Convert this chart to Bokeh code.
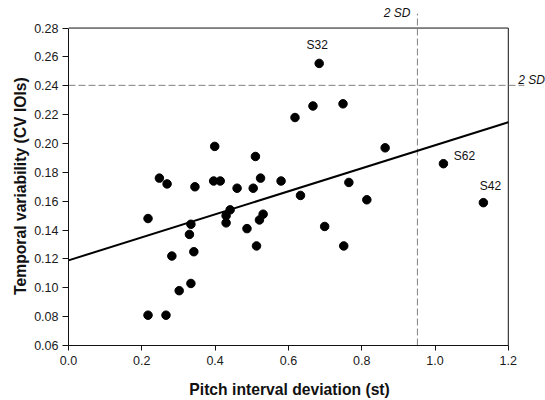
from bokeh.plotting import figure
from bokeh.models import FixedTicker, PrintfTickFormatter, Range1d
from bokeh.core.properties import value
from bokeh.embed import file_html
from bokeh.resources import INLINE

# ---- data ----
pitch_dev = [0.217, 0.217, 0.248, 0.269, 0.266, 0.282, 0.302, 0.330, 0.334, 0.334,
             0.342, 0.345, 0.399, 0.396, 0.414, 0.430, 0.430, 0.441, 0.460, 0.487,
             0.504, 0.510, 0.513, 0.521, 0.524, 0.531, 0.580, 0.618, 0.633, 0.667,
             0.684, 0.699, 0.749, 0.751, 0.765, 0.814, 0.864, 1.023, 1.132]
temporal_cv = [0.148, 0.081, 0.176, 0.172, 0.081, 0.122, 0.098, 0.137, 0.144, 0.103,
               0.125, 0.170, 0.198, 0.174, 0.174, 0.145, 0.150, 0.154, 0.169, 0.141,
               0.169, 0.191, 0.129, 0.147, 0.176, 0.151, 0.174, 0.218, 0.164, 0.226,
               0.2555, 0.1425, 0.2275, 0.129, 0.173, 0.161, 0.197, 0.186, 0.159]

label_names = ["S32", "S62", "S42"]
label_x = [0.684, 1.023, 1.132]
label_y = [0.2555, 0.186, 0.159]

fit_x = [0.0, 1.2]
fit_y = [0.119, 0.2147]

sd_pitch = 0.952     # 2 SD cut-off on x
sd_cv = 0.2403       # 2 SD cut-off on y
sd_text = "2 SD"

x_ticks = [0.0, 0.2, 0.4, 0.6, 0.8, 1.0, 1.2]
y_ticks = [0.06, 0.08, 0.10, 0.12, 0.14, 0.16, 0.18, 0.20, 0.22, 0.24, 0.26, 0.28]

x_title = "Pitch interval deviation (st)"
y_title = "Temporal variability (CV IOIs)"

FONT = "Liberation Sans"
INK = "#111111"
NBSP = "\u00a0"

# The plotting area is a little larger than the axes box so that the
# 2 SD lines and their notes can run past the box as in the original.
p = figure(width=545, height=400, output_backend="svg", toolbar_location=None,
           x_range=Range1d(0, 1.3015), y_range=Range1d(0.06, 0.2991),
           min_border_left=68, min_border_right=0, min_border_top=0,
           min_border_bottom=55,
           # padding keeps the titles centred on the axis rules, not the area
           x_axis_label=x_title + NBSP * 8,
           y_axis_label=y_title + NBSP * 6)
p.outline_line_color = None
p.grid.visible = False

p.xaxis.ticker = FixedTicker(ticks=x_ticks)
p.xaxis.formatter = PrintfTickFormatter(format="%.1f")
p.yaxis.ticker = FixedTicker(ticks=y_ticks)
p.yaxis.formatter = PrintfTickFormatter(format="%.2f")
p.xaxis.bounds = (x_ticks[0], x_ticks[-1])
p.yaxis.bounds = (y_ticks[0], y_ticks[-1])

for ax in p.axis:
    ax.minor_tick_line_color = None
    ax.major_tick_in = 0
    ax.major_tick_out = 5
    ax.axis_line_color = INK
    ax.major_tick_line_color = INK
    ax.major_label_text_font = FONT
    ax.major_label_text_font_size = "12.5px"
    ax.major_label_text_color = "#1a1a1a"
    ax.axis_label_text_font = FONT
    ax.axis_label_text_font_style = "bold"
    ax.axis_label_text_font_size = "15.7px"
    ax.axis_label_text_color = INK

p.yaxis.major_tick_out = 6
p.yaxis.major_label_standoff = 4
p.yaxis.axis_label_standoff = 2
p.xaxis.major_label_standoff = 5
p.xaxis.axis_label_standoff = 13

# closing box (top and right edges of the axes box)
p.segment(x0=[x_ticks[0], x_ticks[-1]], y0=[y_ticks[-1], y_ticks[0]],
          x1=[x_ticks[-1], x_ticks[-1]], y1=[y_ticks[-1], y_ticks[-1]],
          line_color=INK, line_width=1)

# 2 SD dashed reference lines
p.segment(x0=[sd_pitch, x_ticks[0]], y0=[y_ticks[0], sd_cv],
          x1=[sd_pitch, 1.2442], y1=[0.2900, sd_cv],
          line_color="#808080", line_width=1, line_dash="7 3")

p.text(x=[sd_pitch], y=[0.29026], text=[sd_text], x_offset=-7,
       text_align="right", text_baseline="middle",
       text_font=value(FONT), text_font_style="italic",
       text_font_size="12px", text_color=INK)
p.text(x=[x_ticks[-1]], y=[sd_cv], text=[sd_text], x_offset=10, y_offset=-5,
       text_align="left", text_baseline="middle",
       text_font=value(FONT), text_font_style="italic",
       text_font_size="12px", text_color=INK)

# regression line
p.line(fit_x, fit_y, line_color="black", line_width=2)

# participants
p.scatter(pitch_dev, temporal_cv, size=8.5, fill_color="black", line_color="black")

# participant labels
offsets = [(-2, -18), (21, -8), (7, -17)]
for name, lx, ly, (dx, dy) in zip(label_names, label_x, label_y, offsets):
    p.text(x=[lx], y=[ly], text=[name], x_offset=dx, y_offset=dy,
           text_align="center", text_baseline="middle",
           text_font=value(FONT), text_font_size="12px", text_color=INK)

open("out.html", "w").write(file_html(p, INLINE))
